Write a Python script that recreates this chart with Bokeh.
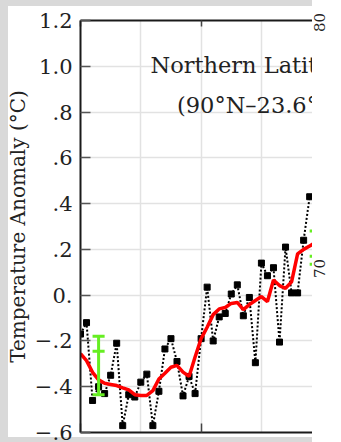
import math
from bokeh.plotting import figure
from bokeh.models import Range1d, LinearAxis, FixedTicker, ColumnDataSource
from bokeh.layouts import column, row
from bokeh.core.properties import value
from bokeh.embed import file_html
from bokeh.resources import INLINE

# ---- data ----
YEARS = list(range(1880, 1919))
ANNUAL = [-0.17, -0.12, -0.46, -0.40, -0.43, -0.35, -0.21, -0.57, -0.435, -0.445,
          -0.38, -0.345, -0.57, -0.42, -0.235, -0.19, -0.29, -0.44, -0.355, -0.43,
          -0.19, 0.035, -0.20, -0.095, -0.08, 0.005, 0.045, -0.09, -0.01, -0.295,
          0.14, 0.085, 0.12, -0.205, 0.21, 0.01, 0.01, 0.24, 0.43]
SMOOTH_YEARS = list(range(1880, 1920))
SMOOTH = [-0.256, -0.286, -0.337, -0.370, -0.385, -0.390, -0.395, -0.405, -0.414, -0.435,
          -0.438, -0.438, -0.417, -0.366, -0.341, -0.315, -0.307, -0.336, -0.355, -0.270,
          -0.190, -0.140, -0.085, -0.060, -0.054, -0.036, -0.032, -0.063, -0.041, -0.023,
          -0.006, -0.028, 0.066, 0.042, 0.030, 0.058, 0.180, 0.200, 0.215, 0.230]
ERR_YEARS = [1883, 1919]
ERR_HIGH = [-0.18, 0.28]
ERR_MID = [-0.245, 0.17]
ERR_LOW = [-0.435, 0.135]
Y_TICKS = [-0.6, -0.4, -0.2, 0, 0.2, 0.4, 0.6, 0.8, 1, 1.2]
Y_TICK_LABELS = ["\u2212.6", "\u2212.4", "\u2212.2", "0.", ".2", ".4", ".6", ".8", "1.0", "1.2"]
X_GRID = [1880, 1890, 1900, 1910, 1920]
X_MAJOR = [1880, 1900, 1920]
RIGHT_TICKS = [70, 80]
RIGHT_TICK_LABELS = ["70", "80"]
TITLE_LINES = ["Northern Latitudes", "(90\u00b0N\u201323.6\u00b0N)"]
Y_LABEL = "Temperature Anomaly (\u00b0C)"

SERIF = "DejaVu Serif"
AXIS_COLOR = "#1a1a1a"
GRID_COLOR = "#e2e2e2"
PAGE_GRAY = "#d9d9d9"

p = figure(width=312, height=442,
           x_range=Range1d(1880, 1918.47), y_range=Range1d(-0.6, 1.2),
           output_backend="svg", toolbar_location=None,
           min_border_left=80, min_border_right=0, min_border_top=20, min_border_bottom=10,
           background_fill_color="white", border_fill_color=None,
           outline_line_color=None)

# grids
p.xgrid.ticker = FixedTicker(ticks=X_GRID)
p.ygrid.ticker = FixedTicker(ticks=Y_TICKS)
for g in (p.xgrid, p.ygrid):
    g.grid_line_color = GRID_COLOR
    g.grid_line_width = 1.5


def plain_x_axis(ax, tick_in):
    ax.ticker = FixedTicker(ticks=X_MAJOR)
    ax.axis_line_color = AXIS_COLOR
    ax.axis_line_width = 2
    ax.major_tick_in = tick_in
    ax.major_tick_out = 0
    ax.minor_tick_in = 0
    ax.minor_tick_out = 0
    ax.major_tick_line_color = "#444444"
    ax.major_tick_line_width = 1.5
    ax.minor_tick_line_color = None
    ax.major_label_text_color = None
    ax.major_label_text_font_size = "2px"
    ax.major_label_standoff = 0


# bottom axis
plain_x_axis(p.xaxis[0], 9)

# top axis
top = LinearAxis()
plain_x_axis(top, 6)
p.add_layout(top, "above")

# left axis
ya = p.yaxis[0]
ya.ticker = FixedTicker(ticks=Y_TICKS)
ya.major_label_overrides = dict(zip(Y_TICKS, Y_TICK_LABELS))
ya.axis_line_color = AXIS_COLOR
ya.axis_line_width = 2
ya.major_tick_in = 10
ya.major_tick_out = 0
ya.minor_tick_in = 0
ya.minor_tick_out = 0
ya.major_tick_line_color = "#555555"
ya.major_tick_line_width = 1.5
ya.minor_tick_line_color = None
ya.major_label_text_font = SERIF
ya.major_label_text_font_size = "21px"
ya.major_label_text_color = "#222222"
ya.major_label_standoff = 8
ya.axis_label = Y_LABEL
ya.axis_label_text_font = SERIF
ya.axis_label_text_font_size = "20px"
ya.axis_label_text_font_style = "normal"
ya.axis_label_text_color = "#222222"
ya.axis_label_standoff = 2

# annual series: black dotted line with squares
src = ColumnDataSource(dict(year=YEARS, anom=ANNUAL))
p.line("year", "anom", source=src, line_color="black", line_width=2, line_dash="2 2")
p.scatter("year", "anom", source=src, marker="square", size=6,
          fill_color="black", line_color="black")

# smoothed series
p.line(SMOOTH_YEARS, SMOOTH, line_color="#ff0000", line_width=3.5)

# error bars
esrc = ColumnDataSource(dict(x=ERR_YEARS, hi=ERR_HIGH, mid=ERR_MID, lo=ERR_LOW,
                             x0=[v - 1 for v in ERR_YEARS], x1=[v + 1 for v in ERR_YEARS]))
GREEN = "#66ee22"
p.segment(x0="x", y0="lo", x1="x", y1="hi", source=esrc, line_color=GREEN, line_width=3)
for key in ("hi", "mid", "lo"):
    p.segment(x0="x0", y0=key, x1="x1", y1=key, source=esrc, line_color=GREEN, line_width=3)

# title inside the frame
tsrc = ColumnDataSource(dict(x=[1891.6, 1896.0], y=[1.005, 0.832], t=TITLE_LINES))
p.text(x="x", y="y", text="t", source=tsrc, text_font=value(SERIF),
       text_font_size="22.5px", text_color="#222222", text_align="left",
       text_baseline="middle")

# page background: grey band on the left, top and bottom, white panel inside
left_block = column(p, styles={
    "background": (
        f"linear-gradient(to right, {PAGE_GRAY} 0px, {PAGE_GRAY} 8px, rgba(255,255,255,0) 8px), "
        f"linear-gradient(to bottom, {PAGE_GRAY} 0px, {PAGE_GRAY} 6px, #ffffff 6px, "
        f"#ffffff 437px, {PAGE_GRAY} 437px)")})

# right strip: tick labels of the neighbouring scale (80 at top, 70 lower)
q = figure(width=29, height=442, x_range=Range1d(0, 1), y_range=Range1d(62.927, 80.894),
           output_backend="svg", toolbar_location=None,
           x_axis_location=None, y_axis_location=None,
           min_border=0, min_border_left=0, min_border_right=0,
           min_border_top=0, min_border_bottom=0,
           background_fill_color="white", border_fill_color="white",
           outline_line_color=None)
q.grid.visible = False
q.text(x=[0.25] * len(RIGHT_TICKS), y=RIGHT_TICKS, text=RIGHT_TICK_LABELS,
       angle=math.pi / 2, text_align="center", text_baseline="middle",
       text_font=value(SERIF), text_font_size="15px", text_color="#222222")

layout = row(left_block, q)

open("out.html", "w").write(file_html(layout, INLINE))
